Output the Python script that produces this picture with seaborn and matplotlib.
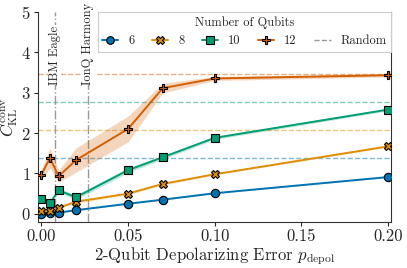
import matplotlib
matplotlib.use("Agg")
import matplotlib.pyplot as plt
import numpy as np
import pandas as pd
import seaborn as sns
from matplotlib.lines import Line2D

sns.set_theme(style="white")
plt.rcParams["font.family"] = ["serif"]
plt.rcParams["font.serif"] = ["cmr10", "DejaVu Serif"]
plt.rcParams["mathtext.fontset"] = "cm"
plt.rcParams["axes.formatter.use_mathtext"] = True

# depolarizing error values
p_depol = [0.0, 0.005, 0.01, 0.02, 0.05, 0.07, 0.10, 0.20]
qubits = [6, 8, 10, 12]

# mean convergence KL per qubit count
kl_6 = [0.00, 0.02, 0.03, 0.09, 0.25, 0.35, 0.51, 0.91]
kl_8 = [0.07, 0.06, 0.15, 0.30, 0.50, 0.74, 0.98, 1.67]
kl_10 = [0.36, 0.27, 0.58, 0.41, 1.08, 1.40, 1.88, 2.58]
kl_12 = [0.97, 1.38, 0.93, 1.33, 2.10, 3.11, 3.35, 3.43]

# spread (half width of shaded band)
sd_6 = [0.01, 0.01, 0.01, 0.01, 0.01, 0.01, 0.01, 0.01]
sd_8 = [0.02, 0.02, 0.03, 0.04, 0.03, 0.03, 0.02, 0.02]
sd_10 = [0.03, 0.03, 0.05, 0.06, 0.06, 0.05, 0.04, 0.03]
sd_12 = [0.12, 0.25, 0.15, 0.30, 0.32, 0.12, 0.05, 0.04]

# random baseline per qubit count
random_kl = [1.38, 2.08, 2.77, 3.45]

markers = ["o", "X", "s", "P"]
colors = sns.color_palette("colorblind")
palette = [colors[0], colors[1], colors[2], colors[3]]

hardware = ["IBM Eagle", "IonQ Harmony"]
hardware_p = [0.0076, 0.027]

means = [kl_6, kl_8, kl_10, kl_12]
spreads = [sd_6, sd_8, sd_10, sd_12]

df = pd.DataFrame(
    {
        "p": np.tile(p_depol, len(qubits)),
        "kl": np.concatenate(means),
        "sd": np.concatenate(spreads),
        "n": np.repeat(qubits, len(p_depol)),
    }
)

fig, ax = plt.subplots(figsize=(4.07, 2.68), dpi=100)
fig.subplots_adjust(left=0.093, right=0.961, top=0.956, bottom=0.172)

for i, n in enumerate(qubits):
    ax.axhline(random_kl[i], color=palette[i], ls="--", lw=1.0, alpha=0.5, zorder=1)

for x, name in zip(hardware_p, hardware):
    ax.axvline(x, color="0.6", ls="-.", lw=1.0, zorder=1)
    ax.text(x, 3.2, name, rotation=90, ha="center", va="bottom", fontsize=9,
            color="0.15", zorder=2,
            bbox=dict(facecolor="white", edgecolor="none", pad=0.5))

handles = []
for i, n in enumerate(qubits):
    sub = df[df["n"] == n]
    ax.fill_between(sub["p"], sub["kl"] - sub["sd"], sub["kl"] + sub["sd"],
                    color=palette[i], alpha=0.25, lw=0, zorder=3)
    sns.lineplot(data=sub, x="p", y="kl", color=palette[i], marker=markers[i],
                 markersize=6, markeredgecolor="black", markeredgewidth=0.8,
                 lw=1.4, ax=ax, zorder=4)
    handles.append(Line2D([], [], color=palette[i], marker=markers[i], markersize=5.5,
                          markeredgecolor="black", markeredgewidth=0.8, lw=1.4,
                          label=str(n)))
handles.append(Line2D([], [], color="0.6", ls="--", lw=1.0, label="Random"))

ax.set_xlim(-0.002, 0.2017)
ax.set_ylim(-0.2, 5)
ax.set_xticks([0.0, 0.05, 0.10, 0.15, 0.20])
ax.set_xticklabels(["0.00", "0.05", "0.10", "0.15", "0.20"])
ax.set_yticks([0, 1, 2, 3, 4, 5])
ax.tick_params(axis="both", labelsize=12, length=3, width=0.8, direction="out",
               bottom=True, left=True, pad=2)
ax.set_xlabel(r"2-Qubit Depolarizing Error $p_{\mathrm{depol}}$", fontsize=12, labelpad=1)
ax.set_ylabel(r"$C_{\mathrm{KL}}^{\mathrm{conv}}$", fontsize=12, labelpad=0.5)
ax.spines["top"].set_visible(False)
for s in ["left", "bottom", "right"]:
    ax.spines[s].set_color("0.2")
    ax.spines[s].set_linewidth(0.8)

leg = ax.legend(handles=handles, title="Number of Qubits", ncol=5, loc="upper right",
                borderaxespad=0, fontsize=9, title_fontsize=9, handlelength=1.3,
                handletextpad=0.8, columnspacing=1.4, borderpad=0.35,
                frameon=True, fancybox=False, framealpha=1.0)
leg.get_frame().set_edgecolor("0.8")
leg.get_frame().set_linewidth(0.8)
leg.set_zorder(10)

fig.savefig("out.png", dpi=100)
